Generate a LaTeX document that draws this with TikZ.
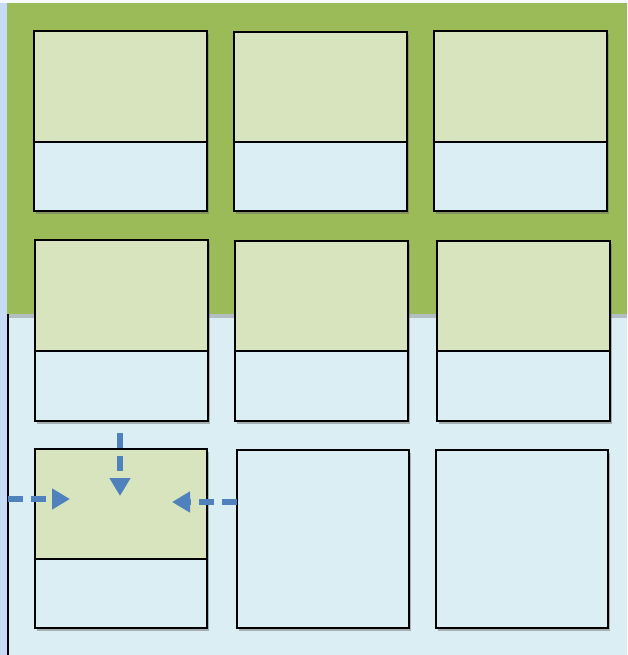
\documentclass[tikz,border=0pt]{standalone}
\usetikzlibrary{shadows,arrows.meta,positioning}
\definecolor{bgblue}{HTML}{DBEEF3}
\definecolor{stripblue}{HTML}{C6DCF6}
\definecolor{framegreen}{HTML}{9BBB59}
\definecolor{topgreen}{HTML}{D7E4BD}
\definecolor{arrowblue}{HTML}{4F81BD}
\begin{document}
\begin{tikzpicture}[x=1pt,y=-1pt,
  cell/.style={draw=black,line width=2.2pt,fill=bgblue,drop shadow={shadow xshift=2pt,shadow yshift=-3pt,opacity=0.45,fill=black!60}},
  toppart/.style={draw=black,line width=2.2pt,fill=topgreen},
  flow/.style={draw=arrowblue,line width=6pt,dash pattern=on 15pt off 8pt,-{Triangle[length=18pt,width=20pt]}}]
\useasboundingbox (0,0) rectangle (627,655);
\fill[white!85!stripblue] (0,0) rectangle (627,655);
\fill[stripblue] (0,3) rectangle (8,655);
\fill[bgblue] (8,314) rectangle (627,655);
\fill[framegreen,drop shadow={shadow xshift=0pt,shadow yshift=-4pt,opacity=0.35,fill=black!60}] (7,3) rectangle (627,314);
\draw[black,line width=1.5pt] (8,314) -- (8,655);
\foreach \n/\xa/\ya/\xb/\yb/\ys in {a/34/31/207/211/142, b/234/32/407/211/142, c/434/31/607/211/142, d/35/240/208/421/351, e/235/241/408/421/351, f/437/241/610/421/351, g/35/449/207/628/559}{
  \path[cell] (\xa,\ya) rectangle (\xb,\yb);
  \draw[toppart] (\xa,\ya) rectangle (\xb,\ys);
  \draw[black,line width=2.2pt] (\xa,\ya) rectangle (\xb,\yb);
}
\node[cell,inner sep=0pt,outer sep=0pt,minimum width=172pt,minimum height=178pt,anchor=north west] (h) at (237,450) {};
\node[cell,inner sep=0pt,outer sep=0pt,minimum width=172pt,minimum height=178pt,anchor=north west] (i) at (436,450) {};
\coordinate (s1) at (8,499);
\coordinate (t1) at (70,499);
\coordinate (s2) at (120,433);
\coordinate (t2) at (120,496);
\coordinate (s3) at (h.west |- 0,502);
\coordinate (t3) at (172,502);
\draw[flow] (s1) -- (t1);
\draw[flow] (s2) -- (t2);
\draw[flow] (s3) -- (t3);
\end{tikzpicture}
\end{document}
